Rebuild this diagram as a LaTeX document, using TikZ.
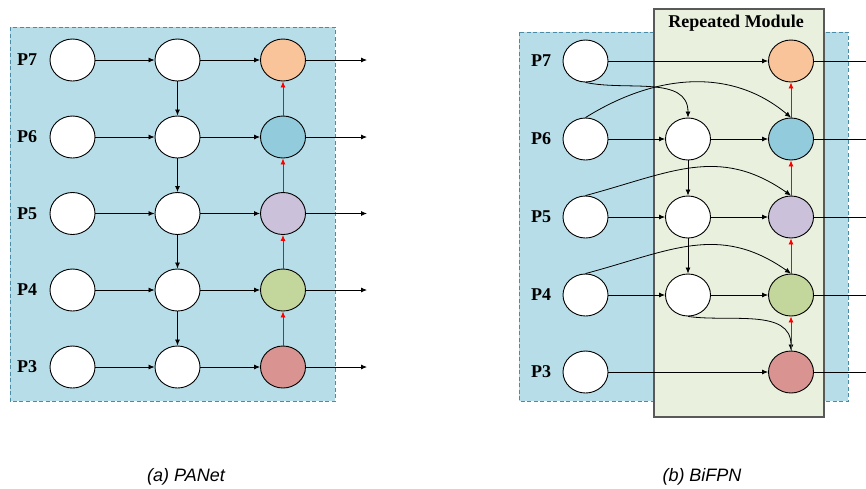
\documentclass[tikz,border=0pt]{standalone}
\usepackage{fontspec}
\setmainfont{Liberation Serif}
\setsansfont{Liberation Sans}
\usetikzlibrary{shapes.geometric,arrows.meta}

\definecolor{bgblue}{RGB}{183,222,232}
\definecolor{dashblue}{RGB}{74,140,165}
\definecolor{modgreen}{RGB}{233,240,222}
\definecolor{c7}{RGB}{249,196,154}
\definecolor{c6}{RGB}{146,204,220}
\definecolor{c5}{RGB}{204,193,218}
\definecolor{c4}{RGB}{195,214,155}
\definecolor{c3}{RGB}{217,148,146}

\begin{document}
\begin{tikzpicture}[x=1pt,y=-1pt,
	feat/.style={ ellipse, draw, line width=0.9pt, fill=white, inner sep=0pt, minimum width=45pt, minimum height=42pt },
	lvl/.style={ font=\fontsize{18}{20}\selectfont\bfseries },
	subcap/.style={ font=\sffamily\itshape\fontsize{18}{20}\selectfont },
	flow/.style={ -{Latex[length=6pt,width=5pt]}, line width=0.8pt },
	lift/.style={ flow, red },
	panel/.style={ fill=bgblue, draw=dashblue, line width=0.8pt, dash pattern=on 4pt off 2.5pt },
	module/.style={ fill=modgreen, draw=black!65, line width=1.3pt }
]
\useasboundingbox (0,0) rectangle (866,488);

% (a) PANet
\draw[panel] (10,27) rectangle (335,401);

\node[lvl] at (27,60) (la7) {P7};
\node[lvl] at (27,137) (la6) {P6};
\node[lvl] at (27,213.5) (la5) {P5};
\node[lvl] at (27,290) (la4) {P4};
\node[lvl] at (27,367) (la3) {P3};

\node[feat] at (72.5,60) (a7a) {};
\node[feat] at (72.5,137) (a6a) {};
\node[feat] at (72.5,213.5) (a5a) {};
\node[feat] at (72.5,290) (a4a) {};
\node[feat] at (72.5,367) (a3a) {};

\node[feat] at (177.5,60) (a7b) {};
\node[feat] at (177.5,137) (a6b) {};
\node[feat] at (177.5,213.5) (a5b) {};
\node[feat] at (177.5,290) (a4b) {};
\node[feat] at (177.5,367) (a3b) {};

\node[feat, fill=c7] at (283,60) (a7c) {};
\node[feat, fill=c6] at (283,137) (a6c) {};
\node[feat, fill=c5] at (283,213.5) (a5c) {};
\node[feat, fill=c4] at (283,290) (a4c) {};
\node[feat, fill=c3] at (283,367) (a3c) {};

\coordinate (a7o) at (367,60);
\coordinate (a6o) at (367,137);
\coordinate (a5o) at (367,213.5);
\coordinate (a4o) at (367,290);
\coordinate (a3o) at (367,367);

\draw[flow] (a7a) to (a7b);
\draw[flow] (a6a) to (a6b);
\draw[flow] (a5a) to (a5b);
\draw[flow] (a4a) to (a4b);
\draw[flow] (a3a) to (a3b);
\draw[flow] (a7b) to (a7c);
\draw[flow] (a6b) to (a6c);
\draw[flow] (a5b) to (a5c);
\draw[flow] (a4b) to (a4c);
\draw[flow] (a3b) to (a3c);
\draw[flow] (a7c) to (a7o);
\draw[flow] (a6c) to (a6o);
\draw[flow] (a5c) to (a5o);
\draw[flow] (a4c) to (a4o);
\draw[flow] (a3c) to (a3o);

% top-down path
\draw[flow] (a7b) to (a6b);
\draw[flow] (a6b) to (a5b);
\draw[flow] (a5b) to (a4b);
\draw[flow] (a4b) to (a3b);
% bottom-up path
\draw[lift] (a3c) to (a4c);
\draw[lift] (a4c) to (a5c);
\draw[lift] (a5c) to (a6c);
\draw[lift] (a6c) to (a7c);

\node[subcap] at (186,477) (capa) {(a) PANet};

% (b) BiFPN
\draw[panel] (519,32) rectangle (848,401);
\draw[module] (654,9) rectangle (824,417);
\node[lvl] at (736,23.5) (modname) {Repeated Module};

\node[lvl] at (541,61) (lb7) {P7};
\node[lvl] at (541,139) (lb6) {P6};
\node[lvl] at (541,217) (lb5) {P5};
\node[lvl] at (541,295) (lb4) {P4};
\node[lvl] at (541,372) (lb3) {P3};

\node[feat] at (585.5,61) (b7a) {};
\node[feat] at (585.5,139) (b6a) {};
\node[feat] at (585.5,217) (b5a) {};
\node[feat] at (585.5,295) (b4a) {};
\node[feat] at (585.5,372) (b3a) {};

\node[feat] at (688,139) (b6b) {};
\node[feat] at (688,217) (b5b) {};
\node[feat] at (688,295) (b4b) {};

\node[feat, fill=c7] at (791,61) (b7c) {};
\node[feat, fill=c6] at (791,139) (b6c) {};
\node[feat, fill=c5] at (791,217) (b5c) {};
\node[feat, fill=c4] at (791,295) (b4c) {};
\node[feat, fill=c3] at (791,372) (b3c) {};

\coordinate (b7o) at (885,61);
\coordinate (b6o) at (885,139);
\coordinate (b5o) at (885,217);
\coordinate (b4o) at (885,295);
\coordinate (b3o) at (885,372);

\draw[flow] (b7a) to (b7c);
\draw[flow] (b6a) to (b6b);
\draw[flow] (b5a) to (b5b);
\draw[flow] (b4a) to (b4b);
\draw[flow] (b3a) to (b3c);
\draw[flow] (b6b) to (b6c);
\draw[flow] (b5b) to (b5c);
\draw[flow] (b4b) to (b4c);
\draw[flow] (b7c) to (b7o);
\draw[flow] (b6c) to (b6o);
\draw[flow] (b5c) to (b5o);
\draw[flow] (b4c) to (b4o);
\draw[flow] (b3c) to (b3o);

% skip connections
\draw[flow] (b7a.south) to[out=-12,in=90] (b6b.north);
\draw[flow] (b6a.north) to[out=32,in=140] (b6c.north);
\draw[flow] (b5a.north) to[out=15,in=145,looseness=1.1] (b5c.north);
\draw[flow] (b4a.north) to[out=15,in=145,looseness=1.1] (b4c.north);
\draw[flow] (b4b.south) to[out=-8,in=90] (b3c.north);

\draw[flow] (b6b) to (b5b);
\draw[flow] (b5b) to (b4b);
\draw[lift] (b3c) to (b4c);
\draw[lift] (b4c) to (b5c);
\draw[lift] (b5c) to (b6c);
\draw[lift] (b6c) to (b7c);

\node[subcap] at (702,477) (capb) {(b) BiFPN};

\end{tikzpicture}
\end{document}
